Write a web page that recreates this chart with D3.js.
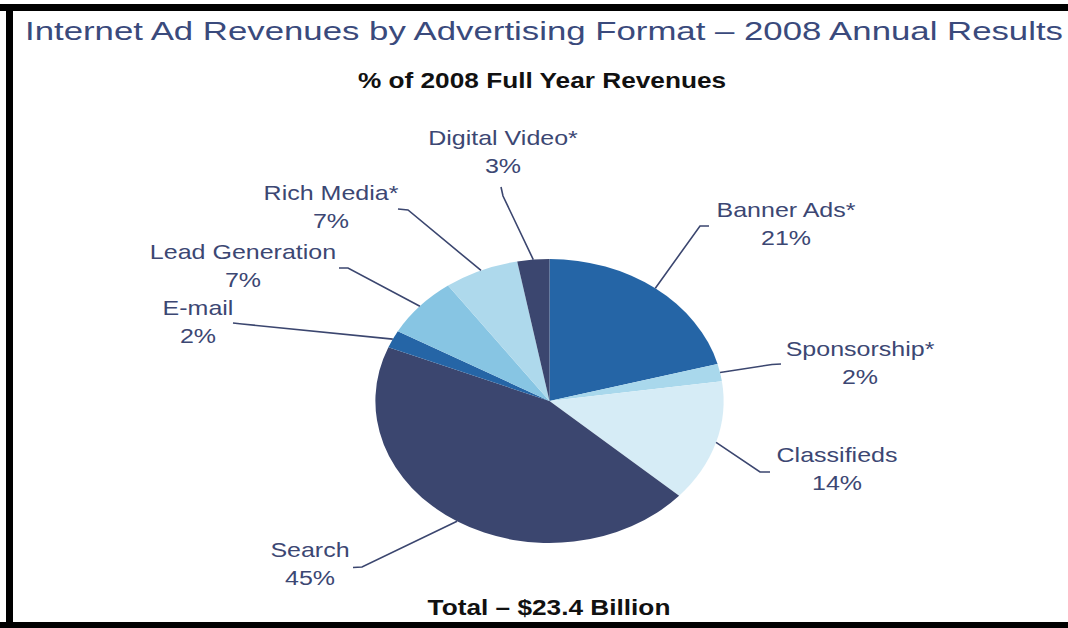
<!DOCTYPE html>
<html>
<head>
<meta charset="utf-8">
<script src="https://cdn.jsdelivr.net/npm/d3@7"></script>
<style>
  html, body { margin: 0; padding: 0; background: #ffffff; }
  svg { display: block; }
  text { font-family: Arial, "Liberation Sans", Helvetica, sans-serif; }
</style>
</head>
<body>
<svg id="chart" width="1068" height="628"></svg>
<script>
// Internet ad revenue share by format, 2008 (percent of full-year revenues)
const categories = ["Banner Ads*", "Sponsorship*", "Classifieds", "Search", "E-mail", "Lead Generation", "Rich Media*", "Digital Video*"];
const shares = [21, 2, 14, 45, 2, 7, 7, 3];
const sliceColors = ["#2565a6", "#a9d8ec", "#d6ecf6", "#3b466f", "#2565a6", "#87c5e3", "#aed9ec", "#3b466f"];

const titleText = "Internet Ad Revenues by Advertising Format \u2013 2008 Annual Results";
const subtitleText = "% of 2008 Full Year Revenues";
const totalText = "Total \u2013 $23.4 Billion";

// Label placement: centre x, first baseline, leader elbow and tick end
const labelLayout = [
  { x: 786, y: 217, elbow: [700, 226], tick: [709, 226] },
  { x: 860, y: 356, elbow: [772, 364.5], tick: [781, 364] },
  { x: 837, y: 462, elbow: [760, 472], tick: [770, 472] },
  { x: 310, y: 557, elbow: [362, 567], tick: [353, 567.5] },
  { x: 198, y: 315, elbow: [242, 324], tick: [233, 323] },
  { x: 243, y: 259, elbow: [348, 268], tick: [339, 268] },
  { x: 331, y: 200, elbow: [408, 210], tick: [398, 209] },
  { x: 503, y: 145, elbow: [503, 196], tick: [501, 187] }
];

const svg = d3.select("#chart");
const W = 1068, H = 628;

svg.append("rect").attr("width", W).attr("height", H).attr("fill", "#ffffff");

// Frame bands (top, left, bottom)
svg.append("rect").attr("x", 0).attr("y", 4).attr("width", W).attr("height", 7).attr("fill", "#000");
svg.append("rect").attr("x", 6).attr("y", 4).attr("width", 7).attr("height", H - 4).attr("fill", "#000");
svg.append("rect").attr("x", 0).attr("y", 622).attr("width", W).attr("height", 6).attr("fill", "#000");

// Title
svg.append("text")
  .attr("x", 25).attr("y", 40)
  .attr("font-size", 26)
  .attr("fill", "#3a4a7c")
  .attr("textLength", 1038)
  .attr("lengthAdjust", "spacingAndGlyphs")
  .text(titleText);

const stretch = 1.22; // horizontal stretch of the whole layout

function stretchedText(x, y, str, size, weight, color) {
  svg.append("g")
    .attr("transform", `translate(${x},${y}) scale(${stretch},1)`)
    .append("text")
    .attr("text-anchor", "middle")
    .attr("font-size", size)
    .attr("font-weight", weight)
    .attr("fill", color)
    .text(str);
}

stretchedText(542, 88, subtitleText, 21.5, "bold", "#111111");
stretchedText(549, 615, totalText, 21.5, "bold", "#111111");

// Pie
const cx = 549.5, cy = 401, R = 142;
const pie = d3.pie().value(d => d).sort(null);
const arcs = pie(shares);
const arc = d3.arc().innerRadius(0).outerRadius(R);

const pieG = svg.append("g").attr("transform", `translate(${cx},${cy}) scale(${stretch * 1.005},1)`);
pieG.selectAll("path")
  .data(arcs)
  .join("path")
  .attr("d", arc)
  .attr("fill", (d, i) => sliceColors[i]);

// Leader lines from slice mid-angle on the rim
const sx = stretch * 1.005;
arcs.forEach((a, i) => {
  const mid = (a.startAngle + a.endAngle) / 2;
  const px = cx + Math.sin(mid) * R * sx;
  const py = cy - Math.cos(mid) * R;
  const L = labelLayout[i];
  svg.append("polyline")
    .attr("points", [[px, py], L.elbow, L.tick].map(p => p.join(",")).join(" "))
    .attr("fill", "none")
    .attr("stroke", "#3b466f")
    .attr("stroke-width", 1.6);
});

// Slice labels: name and percentage
const fmt = d => d + "%";
categories.forEach((name, i) => {
  const L = labelLayout[i];
  stretchedText(L.x, L.y, name, 20.5, "normal", "#3c4773");
  stretchedText(L.x, L.y + 28, fmt(shares[i]), 20.5, "normal", "#3c4773");
});
</script>
</body>
</html>
